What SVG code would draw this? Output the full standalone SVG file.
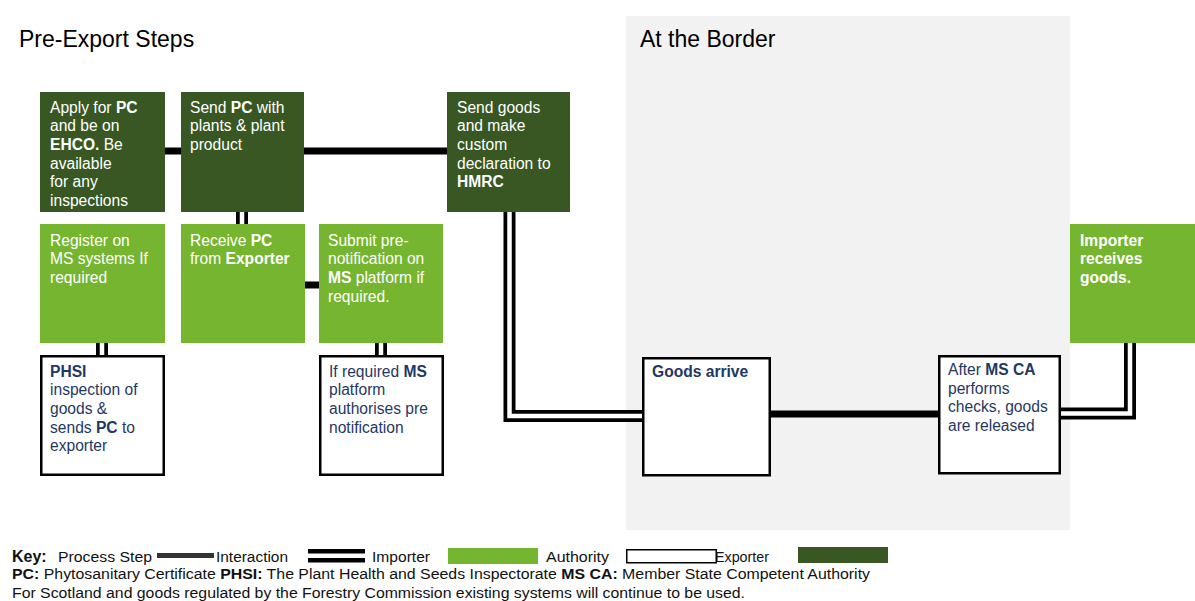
<svg xmlns="http://www.w3.org/2000/svg" width="1195" height="601" viewBox="0 0 1195 601">
<style>
text{font-family:"Liberation Sans",Arial,sans-serif;font-size:15.6px}
.title{font-size:23px;fill:#000}
.dk{fill:#385723}
.lt{fill:#76b52f}
.wh{fill:#fff;stroke:#000;stroke-width:2.5}
.tw{fill:#fff}
.tn{fill:#1f3864}
.k{fill:#111;font-size:14px}
.b{font-weight:bold}
.single{fill:none;stroke:#000;stroke-width:7}
.dblo{fill:none;stroke:#000;stroke-width:12;stroke-linejoin:miter}
.dbli{fill:none;stroke:#fff;stroke-width:4.5;stroke-linejoin:miter}
</style>
<rect x="0" y="0" width="1195" height="601" fill="#fff"/>
<rect id="border-zone" x="626" y="16" width="444" height="514" fill="#f2f2f2"/>
<text class="title" x="19" y="47">Pre-Export Steps</text>
<text class="title" x="640" y="47">At the Border</text>

<g id="connectors">
<path class="single" d="M165 151H181"/>
<path class="single" d="M304 151H447"/>
<path class="single" d="M305 285H319"/>
<path class="single" d="M771 414H938"/>
<path class="dblo" d="M242 212V224"/><path class="dbli" d="M242 211V225"/>
<path class="dblo" d="M102 343V355"/><path class="dbli" d="M102 342V356"/>
<path class="dblo" d="M381 343V355"/><path class="dbli" d="M381 342V356"/>
<path class="dblo" d="M509.5 212V416H642"/><path class="dbli" d="M509.5 211V416H643"/>
<path class="dblo" d="M1061 413.5H1130V343"/><path class="dbli" d="M1060 413.5H1130V342"/>
</g>

<g id="apply-pc">
<rect class="dk" x="40" y="92" width="125" height="120"/>
<text class="tw"><tspan x="50" y="112.5">Apply for <tspan class="b">PC</tspan></tspan><tspan x="50" y="131.2">and be on</tspan><tspan x="50" y="150"><tspan class="b">EHCO.</tspan> Be</tspan><tspan x="50" y="168.7">available</tspan><tspan x="50" y="187.4">for any</tspan><tspan x="50" y="206">inspections</tspan></text>
</g>
<g id="send-pc">
<rect class="dk" x="181" y="92" width="123" height="120"/>
<text class="tw"><tspan x="190" y="112.5">Send <tspan class="b">PC</tspan> with</tspan><tspan x="190" y="131.2">plants &amp; plant</tspan><tspan x="190" y="150">product</tspan></text>
</g>
<g id="send-goods">
<rect class="dk" x="447" y="92" width="123" height="120"/>
<text class="tw"><tspan x="457" y="112.5">Send goods</tspan><tspan x="457" y="131.2">and make</tspan><tspan x="457" y="150">custom</tspan><tspan x="457" y="168.7">declaration to</tspan><tspan x="457" y="187.4" class="b">HMRC</tspan></text>
</g>
<g id="register-ms">
<rect class="lt" x="40" y="224" width="125" height="119"/>
<text class="tw"><tspan x="50" y="245.5">Register on</tspan><tspan x="50" y="264.2">MS systems If</tspan><tspan x="50" y="283">required</tspan></text>
</g>
<g id="receive-pc">
<rect class="lt" x="181" y="224" width="124" height="119"/>
<text class="tw"><tspan x="190" y="245.5">Receive <tspan class="b">PC</tspan></tspan><tspan x="190" y="264.2">from <tspan class="b">Exporter</tspan></tspan></text>
</g>
<g id="submit-prenotification">
<rect class="lt" x="319" y="224" width="124" height="119"/>
<text class="tw"><tspan x="328" y="245.5">Submit pre-</tspan><tspan x="328" y="264.2">notification on</tspan><tspan x="328" y="283"><tspan class="b">MS</tspan> platform if</tspan><tspan x="328" y="301.7">required.</tspan></text>
</g>
<g id="phsi-inspection">
<rect class="wh" x="41.25" y="356.25" width="122.5" height="118.5"/>
<text class="tn"><tspan x="50" y="376.5" class="b">PHSI</tspan><tspan x="50" y="395.2">inspection of</tspan><tspan x="50" y="414">goods &amp;</tspan><tspan x="50" y="432.7">sends <tspan class="b">PC</tspan> to</tspan><tspan x="50" y="451.4">exporter</tspan></text>
</g>
<g id="ms-authorises">
<rect class="wh" x="320.25" y="356.25" width="122.5" height="118.5"/>
<text class="tn"><tspan x="329" y="376.5">If required <tspan class="b">MS</tspan></tspan><tspan x="329" y="395.2">platform</tspan><tspan x="329" y="414">authorises pre</tspan><tspan x="329" y="432.7">notification</tspan></text>
</g>
<g id="goods-arrive">
<rect class="wh" x="643.25" y="358.25" width="126.5" height="117"/>
<text class="tn b" x="652" y="377">Goods arrive</text>
</g>
<g id="ms-ca-checks">
<rect class="wh" x="939.25" y="356.25" width="120.5" height="117"/>
<text class="tn"><tspan x="948" y="375">After <tspan class="b">MS CA</tspan></tspan><tspan x="948" y="393.7">performs</tspan><tspan x="948" y="412.4">checks, goods</tspan><tspan x="948" y="431.1">are released</tspan></text>
</g>
<g id="importer-receives">
<rect class="lt" x="1070" y="224" width="125" height="119"/>
<text class="tw b"><tspan x="1080" y="245.5">Importer</tspan><tspan x="1080" y="264.2">receives</tspan><tspan x="1080" y="283">goods.</tspan></text>
</g>

<g id="key">
<text class="k b" x="12" y="562" style="font-size:16px">Key:</text>
<text class="k" x="58" y="562" textLength="94" lengthAdjust="spacingAndGlyphs">Process Step</text>
<rect x="157" y="553" width="57" height="5" fill="#333"/>
<text class="k" x="216" y="562" textLength="72" lengthAdjust="spacingAndGlyphs">Interaction</text>
<rect x="308" y="549" width="57" height="4.5" fill="#000"/>
<rect x="308" y="558" width="57" height="4.5" fill="#000"/>
<text class="k" x="372" y="562" textLength="58" lengthAdjust="spacingAndGlyphs">Importer</text>
<rect class="lt" x="448" y="548" width="90" height="16"/>
<text class="k" x="546" y="562" textLength="63" lengthAdjust="spacingAndGlyphs">Authority</text>
<rect x="626.75" y="549.75" width="89.5" height="13" fill="#fff" stroke="#000" stroke-width="1.5"/>
<text class="k" x="715" y="562" textLength="54" lengthAdjust="spacingAndGlyphs">Exporter</text>
<rect class="dk" x="798" y="547" width="90" height="16"/>
<text class="k" x="12" y="579" textLength="858" lengthAdjust="spacingAndGlyphs"><tspan class="b">PC:</tspan> Phytosanitary Certificate <tspan class="b">PHSI:</tspan> The Plant Health and Seeds Inspectorate <tspan class="b">MS CA:</tspan> Member State Competent Authority</text>
<text class="k" x="12" y="598" textLength="733" lengthAdjust="spacingAndGlyphs">For Scotland and goods regulated by the Forestry Commission existing systems will continue to be used.</text>
</g>
</svg>
